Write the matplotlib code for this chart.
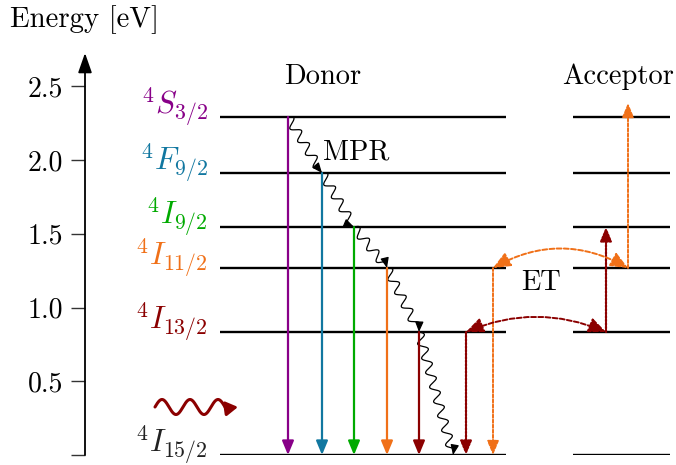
import numpy as np
import matplotlib
matplotlib.use('Agg')
import matplotlib.pyplot as plt

plt.rcParams['font.family'] = 'serif'
plt.rcParams['font.serif'] = ['cmr10']
plt.rcParams['mathtext.fontset'] = 'cm'
plt.rcParams['axes.formatter.use_mathtext'] = True

# Er3+ levels in eV, ground state first
level_energy = [0.0, 0.834, 1.268, 1.546, 1.912, 2.292]
level_names = [r'$^4I_{15/2}$', r'$^4I_{13/2}$', r'$^4I_{11/2}$',
               r'$^4I_{9/2}$', r'$^4F_{9/2}$', r'$^4S_{3/2}$']
level_colors = ['#222222', '#8b0000', '#f07018', '#00aa00', '#1177a0', '#880088']

yticks = [0.0, 0.5, 1.0, 1.5, 2.0, 2.5]
ytick_labels = ['', '0.5', '1.0', '1.5', '2.0', '2.5']

# upper level reached in the acceptor by the second ET step
acceptor_top = 2.386

PX_PER_EV = 147.5
W, H = 676, 465

# layout (x in pixel columns)
donor_x = (220, 506)
acceptor_x = (573, 670)
emission_x = [419, 387, 354, 322, 288]   # from I13/2 ... S3/2
mpr_x = [288, 322, 354, 387, 419, 453]    # S3/2 -> ... -> ground

fig = plt.figure(figsize=(W / 100, H / 100), dpi=100)
ax = fig.add_axes([85 / W, 10 / H, (W - 85) / W, 400 / H])
ax.set_xlim(85, W)
ax.set_ylim(0, 400 / PX_PER_EV)
for s in ax.spines.values():
    s.set_visible(False)
ax.set_xticks([])
ax.set_yticks(yticks, ytick_labels)
ax.tick_params(axis='y', direction='out', length=10, width=1.0, color='#333333',
               pad=6, labelsize=20)

# energy axis with arrow head
ax.annotate('', xy=(85, 402 / PX_PER_EV), xytext=(85, 0),
            arrowprops=dict(arrowstyle='-|>,head_length=0.8,head_width=0.28',
                            lw=1.3, color='black', shrinkA=0, shrinkB=0,
                            mutation_scale=15),
            annotation_clip=False)
fig.text(10 / W, 1 - 20 / H, 'Energy [eV]', fontsize=20.8, va='center', ha='left')


def arrow(p0, p1, color, ls='-', lw=1.6, style='-|>,head_length=0.6,head_width=0.25',
          ms=14, conn='arc3'):
    ax.annotate('', xy=p1, xytext=p0,
                arrowprops=dict(arrowstyle=style, color=color, lw=lw, ls=ls,
                                shrinkA=0, shrinkB=0, mutation_scale=ms,
                                connectionstyle=conn),
                annotation_clip=False)


def wavy(p0, p1, amp, wavelength, color, lw, head_px, style, ms):
    d0 = ax.transData.transform(p0)
    d1 = ax.transData.transform(p1)
    v = d1 - d0
    L = np.hypot(*v)
    u = v / L
    n = np.array([-u[1], u[0]])
    t = np.linspace(0, L - head_px, 300)
    off = amp * np.sin(2 * np.pi * t / wavelength)
    pts = d0 + np.outer(t, u) + np.outer(off, n)
    data = ax.transData.inverted().transform(pts)
    ax.plot(data[:, 0], data[:, 1], color=color, lw=lw, solid_capstyle='round')
    arrow(tuple(data[-1]), p1, color, lw=lw, style=style, ms=ms)


# energy levels
for E, name, c in zip(level_energy, level_names, level_colors):
    ax.plot(donor_x, [E, E], color='black', lw=1.7, solid_capstyle='butt')
    ax.plot(acceptor_x, [E, E], color='black', lw=1.7, solid_capstyle='butt')
    ax.text(208, E + 2.5 / PX_PER_EV, name, color=c, ha='right', va='baseline',
            fontsize=22.5)

ax.text(323, (455 - 77) / PX_PER_EV, 'Donor', fontsize=20.5, ha='center', va='center')
ax.text(618, (455 - 77) / PX_PER_EV, 'Acceptor', fontsize=20.5, ha='center', va='center')
ax.text(323, (455 - 152) / PX_PER_EV, 'MPR', fontsize=20.5, ha='left', va='center')
ax.text(541, (455 - 283) / PX_PER_EV, 'ET', fontsize=20.5, ha='center', va='center')

# radiative decays to the ground state
for x, E, c in zip(emission_x, level_energy[1:], level_colors[1:]):
    arrow((x, E), (x, 0.0), c)

# multiphonon relaxation cascade
for i in range(len(mpr_x) - 1):
    E0 = level_energy[::-1][i]
    E1 = level_energy[::-1][i + 1]
    wavy((mpr_x[i], E0), (mpr_x[i + 1], E1), 4.5, 15, 'black', 0.9, 6,
         '-|>,head_length=0.6,head_width=0.25', 10)

# energy transfer pathways
dot = (0, (0.8, 0.8))
dash = (0, (1.6, 1.0))
arrow((466, level_energy[1]), (466, 0.0), level_colors[1], ls=dot, lw=1.6)
arrow((493, level_energy[2]), (493, 0.0), level_colors[2], ls=dash, lw=1.4)
arrow((606, level_energy[1]), (606, level_energy[3]), level_colors[1], ls=dot, lw=1.6)
arrow((628, level_energy[2]), (628, acceptor_top), level_colors[2], ls=dash, lw=1.4)

et_style = '<|-|>,head_length=0.7,head_width=0.3'
arrow((493, level_energy[2]), (628, level_energy[2]), level_colors[2], ls=(0, (2.5, 1.2)),
      lw=1.4, style=et_style, ms=15, conn='arc3,rad=-0.28')
arrow((466, level_energy[1]), (606, level_energy[1]), level_colors[1], ls=(0, (2.5, 1.2)),
      lw=1.4, style=et_style, ms=15, conn='arc3,rad=-0.21')

# incoming photon
wavy((155, 48 / PX_PER_EV), (238, 48 / PX_PER_EV), 7.5, 28, level_colors[1], 2.2, 12,
     '-|>,head_length=0.5,head_width=0.3', 14)

fig.savefig('out.png', dpi=100)
